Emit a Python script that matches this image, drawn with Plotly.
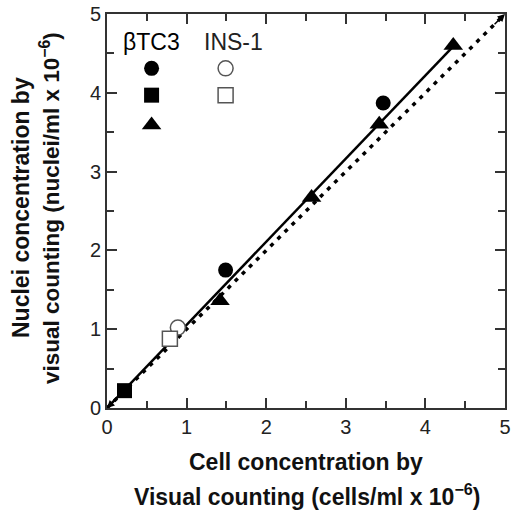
import plotly.graph_objects as go

# --- data ---
btc3_circle_x = [1.49, 3.47]
btc3_circle_y = [1.75, 3.87]
btc3_square_x = [0.22]
btc3_square_y = [0.22]
btc3_triangle_x = [1.42, 2.57, 3.42, 4.35]
btc3_triangle_y = [1.36, 2.67, 3.60, 4.60]
ins1_circle_x = [0.89]
ins1_circle_y = [1.02]
ins1_square_x = [0.79]
ins1_square_y = [0.88]

fit_x = [0.0, 4.38]
fit_slope = 1.055
fit_y = [v * fit_slope for v in fit_x]
ident_x = [0.0, 5.0]
ident_y = [0.0, 5.0]

tick_vals = [0, 1, 2, 3, 4, 5]
tick_text = ["0", "1", "2", "3", "4", "5"]

fig = go.Figure()

fig.add_trace(go.Scatter(x=ident_x, y=ident_y, mode="lines",
                         line=dict(color="black", width=3.5, dash="4px,6px"), hoverinfo="skip"))
fig.add_trace(go.Scatter(x=fit_x, y=fit_y, mode="lines",
                         line=dict(color="black", width=2.5), hoverinfo="skip"))

filled = dict(color="black", line=dict(width=0))
openm = dict(color="white", line=dict(color="#555555", width=1.5))

fig.add_trace(go.Scatter(x=btc3_circle_x, y=btc3_circle_y, mode="markers",
                         marker=dict(symbol="circle", size=15, **filled)))
fig.add_trace(go.Scatter(x=btc3_square_x, y=btc3_square_y, mode="markers",
                         marker=dict(symbol="square", size=15, **filled)))
fig.add_trace(go.Scatter(x=btc3_triangle_x, y=btc3_triangle_y, mode="markers",
                         marker=dict(symbol="triangle-up", size=17, **filled)))
fig.add_trace(go.Scatter(x=ins1_circle_x, y=ins1_circle_y, mode="markers",
                         marker=dict(symbol="circle", size=15, **openm)))
fig.add_trace(go.Scatter(x=ins1_square_x, y=ins1_square_y, mode="markers",
                         marker=dict(symbol="square", size=15, **openm)))

# legend keys (layout positions)
leg_x1, leg_x2 = 0.56, 1.49
leg_rows = [4.31, 3.97, 3.59]
fig.add_trace(go.Scatter(x=[leg_x1], y=[leg_rows[0]], mode="markers",
                         marker=dict(symbol="circle", size=15, **filled)))
fig.add_trace(go.Scatter(x=[leg_x1], y=[leg_rows[1]], mode="markers",
                         marker=dict(symbol="square", size=15, **filled)))
fig.add_trace(go.Scatter(x=[leg_x1], y=[leg_rows[2]], mode="markers",
                         marker=dict(symbol="triangle-up", size=17, **filled)))
fig.add_trace(go.Scatter(x=[leg_x2], y=[leg_rows[0]], mode="markers",
                         marker=dict(symbol="circle", size=15, **openm)))
fig.add_trace(go.Scatter(x=[leg_x2], y=[leg_rows[1]], mode="markers",
                         marker=dict(symbol="square", size=15, **openm)))

font_fam = "Liberation Sans, Arial, sans-serif"
axis_common = dict(range=[0, 5], tickvals=tick_vals, ticktext=tick_text,
                   ticks="inside", ticklen=10, tickwidth=2, tickcolor="#333",
                   showline=True, linecolor="#333", linewidth=2, mirror="ticks",
                   showgrid=False, zeroline=False, automargin=False,
                   tickfont=dict(family=font_fam, size=20, color="#222"),
                   minor=dict(dtick=0.5, tick0=0, ticks="inside", ticklen=7,
                              tickwidth=2, tickcolor="#333", showgrid=False))

W, H = 514, 511
L, R, T, B = 107, 9, 14, 103
pw, ph = W - L - R, H - T - B

fig.update_layout(
    width=W, height=H,
    margin=dict(l=L, r=R, t=T, b=B, autoexpand=False),
    plot_bgcolor="white", paper_bgcolor="white",
    showlegend=False,
    xaxis=dict(**axis_common),
    yaxis=dict(**axis_common),
    font=dict(family=font_fam),
)

# annotations placed in pixel terms, converted to paper coords
ann = [
    (151, 42, "βTC3", 0, 23, "black"),
    (233, 42, "INS-1", 0, 23, "#222"),
    (306, 462, "<b>Cell concentration by</b>", 0, 23, "#111"),
    (307, 495, "<b>Visual counting (cells/ml x 10<sup>−6</sup>)</b>", 0, 23, "#111"),
    (21, 208, "<b>Nuclei concentration by</b>", -90, 23, "#111"),
    (50, 208, "<b>visual counting (nuclei/ml x 10<sup>−6</sup>)</b>", -90, 22.5, "#111"),
]
final = []
for px, py, txt, ang, sz, col in ann:
    final.append(dict(xref="paper", yref="paper",
                      x=(px - L) / pw, y=(H - B - py) / ph,
                      xanchor="center", yanchor="middle", text=txt, textangle=ang,
                      showarrow=False, font=dict(family=font_fam, size=sz, color=col)))
# small arrowheads at the ends of the identity line
final.append(dict(x=ident_x[1], y=ident_y[1], ax=ident_x[1] - 0.15, ay=ident_y[1] - 0.15,
                  xref="x", yref="y", axref="x", ayref="y", text="", showarrow=True,
                  arrowhead=2, arrowsize=1, arrowwidth=1.5, arrowcolor="black"))
final.append(dict(x=ident_x[0], y=ident_y[0], ax=ident_x[0] + 0.15, ay=ident_y[0] + 0.15,
                  xref="x", yref="y", axref="x", ayref="y", text="", showarrow=True,
                  arrowhead=2, arrowsize=1, arrowwidth=1.5, arrowcolor="black"))
fig.update_layout(annotations=final)

fig.write_html("out.html", config={"displayModeBar": False},
               post_script="document.body.style.margin='0';document.body.style.padding='0';")
